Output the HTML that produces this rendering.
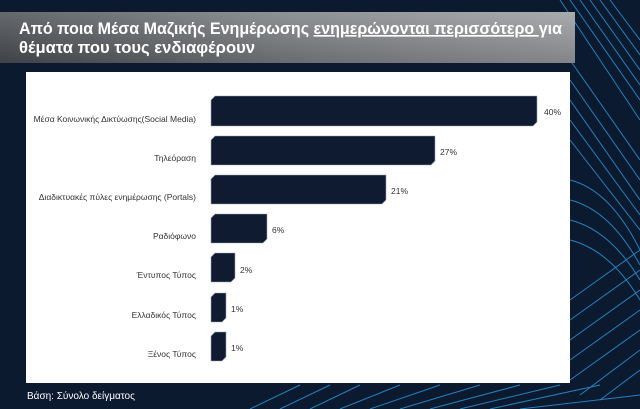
<!DOCTYPE html>
<html><head><meta charset="utf-8"><style>
html,body{margin:0;padding:0;width:640px;height:409px;overflow:hidden;background:#0c1a30;}
svg{display:block}
</style></head><body>
<svg width="640" height="409" xmlns="http://www.w3.org/2000/svg" font-family="Liberation Sans, DejaVu Sans, sans-serif">
<defs>
<linearGradient id="ban" x1="0" y1="0" x2="1" y2="0">
<stop offset="0" stop-color="#4a4d52"/><stop offset="0.5" stop-color="#7c7f83"/><stop offset="1" stop-color="#9a9c9f"/>
</linearGradient>
<linearGradient id="banv" x1="0" y1="0" x2="0" y2="1">
<stop offset="0" stop-color="#fff" stop-opacity="0.15"/><stop offset="1" stop-color="#000" stop-opacity="0.15"/>
</linearGradient>
</defs>
<rect width="640" height="409" fill="#0c1a30"/>
<g stroke="#2a9ae0" stroke-width="1" opacity="0.8" fill="none">
<path d="M560 0 L640 120 M570 0 L640 100 M580 0 L640 85 M590 0 L640 70 M600 0 L640 55 M610 0 L640 40"/>
<path d="M570 60 L640 160 M570 80 L640 180 M570 100 L640 200 M570 120 L640 215 M570 140 L640 230"/>
<path d="M570 180 Q610 190 640 250 M570 200 Q610 210 640 265 M570 220 Q610 230 640 280 M570 240 Q610 250 640 300"/>
<path d="M570 300 L640 250 M570 320 L640 270 M570 340 L640 290 M570 360 L640 310 M570 380 L640 330 M580 395 L640 350 M600 400 L640 370"/>
<path d="M250 409 L300 385 M280 409 L330 385 M310 409 L360 385 M340 409 L400 385 M370 409 L440 385 M400 409 L480 385 M430 409 L520 385 M460 409 L560 385 M490 409 L600 385 M520 409 L640 395"/>
</g>
<rect x="0" y="12" width="575" height="51" fill="url(#ban)"/>
<rect x="0" y="12" width="575" height="51" fill="url(#banv)"/>
<text x="19" y="34" font-size="16.5" font-weight="bold" fill="#fff" textLength="543" lengthAdjust="spacingAndGlyphs">Από ποια Μέσα Μαζικής Ενημέρωσης <tspan text-decoration="underline">ενημερώνονται περισσότερο </tspan>για</text>
<text x="19" y="53" font-size="16.5" font-weight="bold" fill="#fff" textLength="236" lengthAdjust="spacingAndGlyphs">θέματα που τους ενδιαφέρουν</text>
<rect x="26" y="72" width="544" height="311" fill="#fff"/>
<g font-size="8.5" fill="#333" text-anchor="end">
<text x="196" y="122">Μέσα Κοινωνικής Δικτύωσης(Social Media)</text>
<text x="196" y="161">Τηλεόραση</text>
<text x="196" y="200">Διαδικτυακές πύλες ενημέρωσης (Portals)</text>
<text x="196" y="239">Ραδιόφωνο</text>
<text x="196" y="278">Έντυπος Τύπος</text>
<text x="196" y="318">Ελλαδικός Τύπος</text>
<text x="196" y="357">Ξένος Τύπος</text>
</g>
<g fill="#0f1b30" stroke="#9aa4b0" stroke-width="0.6">
<polygon points="215,96 537,96 537,122 533,126 211,126 211,100"/>
<polygon points="215,136 435,136 435,161 431,165 211,165 211,140"/>
<polygon points="215,175 386,175 386,200 382,204 211,204 211,179"/>
<polygon points="215,214 267,214 267,239 263,243 211,243 211,218"/>
<polygon points="215,253 235,253 235,278 231,282 211,282 211,257"/>
<polygon points="215,293 226,293 226,318 222,322 211,322 211,297"/>
<polygon points="215,332 226,332 226,357 222,361 211,361 211,336"/>
</g>
<g font-size="8.5" fill="#333">
<text x="544" y="115">40%</text>
<text x="440" y="155">27%</text>
<text x="391" y="194">21%</text>
<text x="272" y="233">6%</text>
<text x="240" y="273">2%</text>
<text x="231" y="312">1%</text>
<text x="231" y="351">1%</text>
</g>
<text x="27" y="399" font-size="10" fill="#fff">Βάση: Σύνολο δείγματος</text>
</svg>
</body></html>
